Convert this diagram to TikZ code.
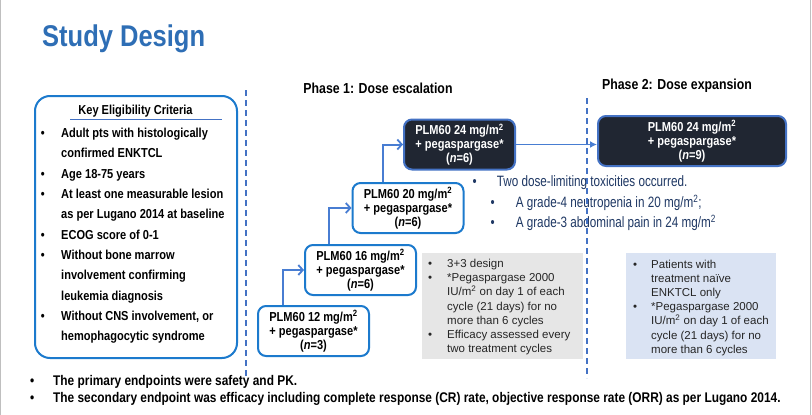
\documentclass[tikz,border=0pt]{standalone}
\usepackage{fontspec}
\setmainfont{Liberation Sans}
\newfontfamily\nar[FakeStretch=0.85]{Liberation Sans}
\newfontfamily\narr[FakeStretch=0.78]{Liberation Sans}
\usetikzlibrary{arrows.meta}
\definecolor{titleblue}{RGB}{46,110,181}
\definecolor{boxblue}{RGB}{28,122,205}
\definecolor{arrowblue}{RGB}{72,125,210}
\definecolor{dashblue}{RGB}{68,114,196}
\definecolor{darkfill}{RGB}{32,38,50}
\definecolor{grayfill}{RGB}{230,230,230}
\definecolor{lightblue}{RGB}{218,227,243}
\definecolor{dltblue}{RGB}{31,56,100}
\tikzset{
  stepbox/.style={draw=boxblue, line width=2pt, rounded corners=8pt, fill=white,
    align=center, inner sep=2pt, minimum width=111pt, minimum height=50pt,
    font=\nar\bfseries\fontsize{13}{14}\selectfont},
  darkbox/.style={stepbox, draw=dashblue, fill=darkfill, text=white},
  critbox/.style={draw=boxblue, line width=2pt, rounded corners=15pt, anchor=north west,
    minimum width=202pt, minimum height=262pt, inner sep=0pt},
  crittext/.style={anchor=north west, inner sep=0pt, font=\nar\bfseries\fontsize{13}{20.3}\selectfont},
  notebox/.style={anchor=north west, inner sep=0pt, minimum width=161pt, minimum height=106pt},
  notetext/.style={anchor=north west, inner sep=0pt, text=black!85, font=\fontsize{11.5}{14.2}\selectfont},
  steparrow/.style={draw=arrowblue, line width=2pt, -{Straight Barb[length=4.5pt,width=10pt,line width=1.8pt]}},
  p2arrow/.style={draw=arrowblue, line width=1.5pt, -{Latex[length=7pt,width=7pt]}},
  dashline/.style={draw=dashblue, line width=1.8pt, dash pattern=on 6pt off 4pt},
  dlt/.style={anchor=base west, inner sep=0pt, text=dltblue, font=\narr\fontsize{15}{18}\selectfont},
  phase/.style={anchor=base, inner sep=0pt, font=\nar\bfseries\fontsize{14.5}{17}\selectfont},
  endpt/.style={anchor=base west, inner sep=0pt, font=\nar\bfseries\fontsize{14}{16}\selectfont},
  edgeline/.style={draw=black!25, line width=1pt}
}
\begin{document}
\begin{tikzpicture}[x=1pt,y=-1pt]
\useasboundingbox (0,0) rectangle (812,415);
\fill[white] (0,0) rectangle (812,415);
\draw[edgeline] (0.5,0) -- (0.5,415);
\draw[edgeline] (810.5,0) -- (810.5,415);

% title
\node[anchor=base west, inner sep=0pt, text=titleblue, font=\nar\bfseries\fontsize{30}{36}\selectfont] (title) at (42,46.7) {Study Design};

% eligibility box
\node[critbox] (crit) at (34,95) {};
\node[anchor=base, inner sep=0pt, font=\nar\bfseries\fontsize{13}{15}\selectfont] (keyhead) at (135.5,114.5) {Key Eligibility Criteria};
\draw[draw=dashblue, line width=0.9pt] (70,119.3) -- (222,119.3);
\node[crittext] (critlist) at (40.8,123.2) {%
\begin{tabular}{@{}p{20.2pt}@{}l@{}}
\textbullet&Adult pts with histologically\\
&confirmed ENKTCL\\
\textbullet&Age 18-75 years\\
\textbullet&At least one measurable lesion\\
&as per Lugano 2014 at baseline\\
\textbullet&ECOG score of 0-1\\
\textbullet&Without bone marrow\\
&involvement confirming\\
&leukemia diagnosis\\
\textbullet&Without CNS involvement, or\\
&hemophagocytic syndrome
\end{tabular}};

% dashed separators
\coordinate (d1top) at (246,90);
\coordinate (d1bot) at (246,380);
\coordinate (d2top) at (587,98);
\coordinate (d2bot) at (587,378);

% phase labels
\node[phase] (ph1) at (378,93) {Phase 1: Dose escalation};
\node[phase] (ph2) at (677,89) {Phase 2: Dose expansion};

% dose boxes
\node[stepbox] (b12) at (313.5,331) {PLM60 12 mg/m\textsuperscript{2}\\+ pegaspargase*\\(\textit{n}=3)};
\node[stepbox] (b16) at (360.5,270) {PLM60 16 mg/m\textsuperscript{2}\\+ pegaspargase*\\(\textit{n}=6)};
\node[stepbox] (b20) at (408,208) {PLM60 20 mg/m\textsuperscript{2}\\+ pegaspargase*\\(\textit{n}=6)};
\node[darkbox] (b24) at (459.5,144.5) {PLM60 24 mg/m\textsuperscript{2}\\+ pegaspargase*\\(\textit{n}=6)};
\node[darkbox, minimum width=188pt] (p2) at (692,141) {PLM60 24 mg/m\textsuperscript{2}\\+ pegaspargase*\\(\textit{n}=9)};

% arrows
\draw[steparrow] ([xshift=-30.5pt]b12.north) |- (b16.west);
\draw[steparrow] ([xshift=-31.5pt]b16.north) |- (b20.west);
\draw[steparrow] ([xshift=-25pt]b20.north) |- (b24.west);
\draw[p2arrow] (b24.east) -- (b24.east -| p2.west);

% DLT text
\node[dlt] (dlt1) at (472.5,186.5) {\textbullet\hspace{20pt}Two dose-limiting toxicities occurred.};
\node[dlt] (dlt2) at (490.5,207.5) {\textbullet\hspace{21pt}A grade-4 neutropenia in 20 mg/m\textsuperscript{2};};
\node[dlt] (dlt3) at (490.5,227.5) {\textbullet\hspace{21pt}A grade-3 abdominal pain in 24 mg/m\textsuperscript{2}};

\draw[dashline] (d1top) -- (d1bot);
\draw[dashline] (d2top) -- (d2bot);

% note boxes
\node[notebox, fill=grayfill] (gray) at (422,253) {};
\node[notetext] (graylist) at (428,257.4) {%
\begin{tabular}{@{}p{19pt}@{}l@{}}
\textbullet&3+3 design\\
\textbullet&*Pegaspargase 2000\\
&IU/m\textsuperscript{2} on day 1 of each\\
&cycle (21 days) for no\\
&more than 6 cycles\\
\textbullet&Efficacy assessed every\\
&two treatment cycles
\end{tabular}};
\node[notebox, fill=lightblue, minimum width=150pt] (blue) at (626,253) {};
\node[notetext] (bluelist) at (633,258) {%
\begin{tabular}{@{}p{18pt}@{}l@{}}
\textbullet&Patients with\\
&treatment naïve\\
&ENKTCL only\\
\textbullet&*Pegaspargase 2000\\
&IU/m\textsuperscript{2} on day 1 of each\\
&cycle (21 days) for no\\
&more than 6 cycles
\end{tabular}};

% endpoints
\node[endpt] (ep1) at (30,385.7) {\textbullet\hspace{18.8pt}The primary endpoints were safety and PK.};
\node[endpt] (ep2) at (30,402.3) {\textbullet\hspace{18.8pt}The secondary endpoint was efficacy including complete response (CR) rate, objective response rate (ORR) as per Lugano 2014.};
\end{tikzpicture}
\end{document}
